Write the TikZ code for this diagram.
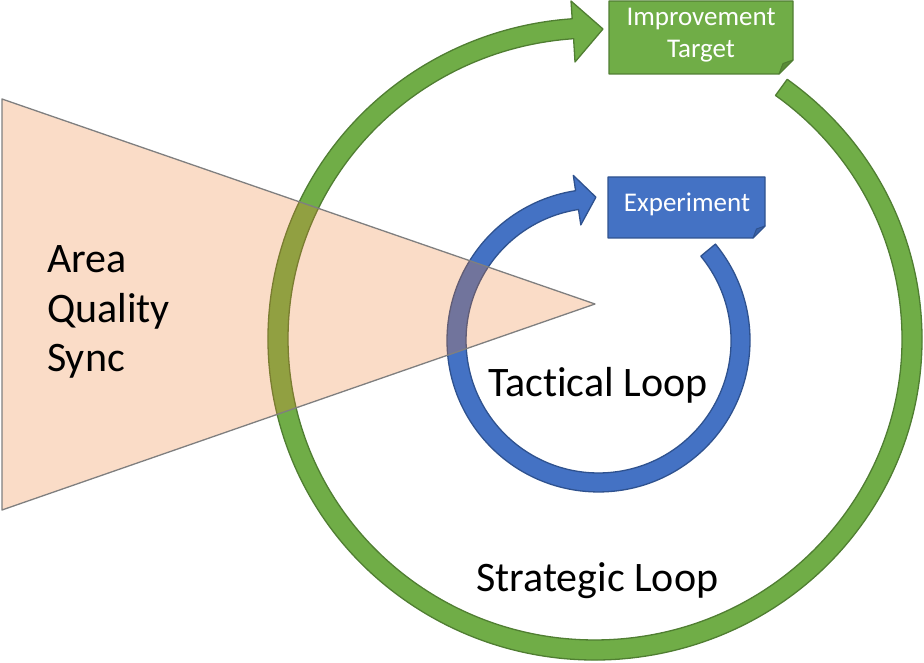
\documentclass[tikz,border=0pt]{standalone}
\usepackage{fontspec}
\setmainfont{Carlito}[Ligatures=NoCommon]
\definecolor{grn}{HTML}{70AD47}
\definecolor{grnd}{HTML}{507E32}
\definecolor{grnf}{HTML}{5A8C38}
\definecolor{blu}{HTML}{4472C4}
\definecolor{blud}{HTML}{2F528F}
\definecolor{bluf}{HTML}{3A62A8}
\definecolor{org}{HTML}{ED7D31}
\definecolor{trid}{HTML}{7F7F7F}
\tikzset{
  gring/.style={fill=grn, draw=grnd, line width=1.3pt, line join=round},
  bring/.style={fill=blu, draw=blud, line width=1.3pt, line join=round},
  bigtext/.style={font=\fontsize{42}{51}\selectfont, text=black, inner sep=0pt},
  boxtext/.style={font=\fontsize{27}{32}\selectfont, text=white, inner sep=0pt, align=center},
}
\begin{document}
\begin{tikzpicture}[x=1pt,y=1pt]
\useasboundingbox (0,0) rectangle (924,662);
% green strategic loop arrow
\path[gring] (787.2,582.7) arc[start angle=54, end angle=-266, x radius=327, y radius=321]
  -- (571,661) -- (603,633) -- (575,600) -- (573.6,623.3)
  arc[start angle=-266, end angle=54, x radius=307, y radius=301] -- cycle;
% blue tactical loop arrow
\path[bring] (715.4,417.9) arc[start angle=39.5, end angle=-261.3, radius=151.5]
  -- (573.3,486.6) -- (595.9,464.8) -- (580.8,437.1) -- (578.5,452.5)
  arc[start angle=-261.3, end angle=39.5, radius=132.5] -- cycle;
% improvement target box
\path[gring] (609,661) -- (793,661) -- (793,602) -- (779,588) -- (609,588) -- cycle;
\path[fill=grnf, draw=grnd, line width=1pt, line join=round] (793,602) -- (779,588) -- (783,598.5) -- cycle;
\node[boxtext] (imp) at (701,627) {Improvement\\Target};
% experiment box
\path[bring] (608,485) -- (765,485) -- (765,436) -- (753,424) -- (608,424) -- cycle;
\path[fill=bluf, draw=blud, line width=1pt, line join=round] (765,436) -- (753,424) -- (756.5,433) -- cycle;
\node[boxtext, anchor=base] (exp) at (687,450) {Experiment};
% triangle
\path[fill=org, fill opacity=0.27, draw=trid, line width=1.3pt, line join=round] (2,563) -- (595,358) -- (2,152) -- cycle;
% texts
\node[bigtext, anchor=base west] (area) at (47,389) {Area};
\node[bigtext, anchor=base west] (quality) at (47,339) {Quality};
\node[bigtext, anchor=base west] (sync) at (47,290) {Sync};
\node[bigtext, anchor=base west] (tact) at (488,265) {Tactical Loop};
\node[bigtext, anchor=base west] (strat) at (476,71) {Strategic Loop};
\end{tikzpicture}
\end{document}
